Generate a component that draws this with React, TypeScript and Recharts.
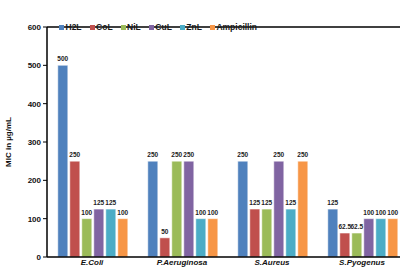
import React from 'react';
import {
  BarChart,
  Bar,
  XAxis,
  YAxis,
  ReferenceLine,
  Legend,
  LabelList,
} from 'recharts';

const strains = ['E.Coli', 'P.Aeruginosa', 'S.Aureus', 'S.Pyogenus'];
const h2l = [500, 250, 250, 125];
const col = [250, 50, 125, 62.5];
const nil = [100, 250, 125, 62.5];
const cul = [125, 250, 250, 100];
const znl = [125, 100, 125, 100];
const ampicillin = [100, 100, 250, 100];
const yTicks = [0, 100, 200, 300, 400, 500, 600];

const series = [
  { key: 'H2L', values: h2l, color: '#4F81BD' },
  { key: 'CoL', values: col, color: '#C0504D' },
  { key: 'NiL', values: nil, color: '#9BBB59' },
  { key: 'CuL', values: cul, color: '#8064A2' },
  { key: 'ZnL', values: znl, color: '#4BACC6' },
  { key: 'Ampicillin', values: ampicillin, color: '#F79646' },
];

const data = strains.map((name, i) => {
  const row: any = { name, pos: i };
  series.forEach((s) => {
    row[s.key] = s.values[i];
  });
  return row;
});

const font = '"Liberation Sans", Arial, sans-serif';

const LegendContent = () => (
  <div style={{ display: 'flex', fontFamily: font, fontSize: 8.5, fontWeight: 700, color: '#1a1a1a', whiteSpace: 'nowrap', lineHeight: '10px' }}>
    {series.map((s) => (
      <div key={s.key} style={{ display: 'flex', alignItems: 'center', marginRight: 8, flexShrink: 0 }}>
        <span style={{ width: 5, height: 5, background: s.color, marginRight: 1.5, display: 'inline-block', flexShrink: 0 }} />
        <span>{s.key}</span>
      </div>
    ))}
  </div>
);

const App = () => {
  return (
    <div style={{ position: 'absolute', left: 0, top: 0, width: 400, height: 271, overflow: 'hidden', background: '#fff' }}>
      <BarChart
        width={412}
        height={271}
        data={data}
        margin={{ top: 17, right: 5, left: 0, bottom: 0 }}
        barCategoryGap="12%"
        barGap={2}
      >
        <XAxis
          xAxisId="edges"
          type="number"
          domain={[0, 4]}
          ticks={[0, 1, 2, 3, 4]}
          height={0}
          axisLine={false}
          tick={false}
          tickLine={{ stroke: '#000', strokeWidth: 1 }}
          tickSize={3}
        />
        <XAxis
          dataKey="name"
          height={14}
          axisLine={{ stroke: '#000', strokeWidth: 1.5 }}
          tickLine={false}
          interval={0}
          tick={{ fontSize: 8, fontWeight: 700, fontStyle: 'italic', fill: '#111', fontFamily: font }}
          tickSize={2}
          tickMargin={0}
        />
        <YAxis
          domain={[0, 600]}
          ticks={yTicks}
          width={47}
          axisLine={{ stroke: '#000', strokeWidth: 1.5 }}
          tickLine={{ stroke: '#000' }}
          tickSize={4}
          tick={{ fontSize: 8, fontWeight: 700, fill: '#111', fontFamily: font }}
          label={{
            value: 'MIC in µg/mL',
            angle: -90,
            position: 'insideLeft',
            offset: 8,
            style: { fontSize: 8, fontWeight: 700, fill: '#111', fontFamily: font, textAnchor: 'middle' },
          }}
        />
        <ReferenceLine y={600} stroke="#000" strokeWidth={1.5} />
        <Legend
          verticalAlign="top"
          align="left"
          content={<LegendContent />}
          wrapperStyle={{ top: 22, left: 59, width: 320 }}
        />
        {series.map((s) => (
          <Bar
            key={s.key}
            dataKey={s.key}
            fill={s.color}
            stroke="#ffffff"
            strokeWidth={0.5}
            isAnimationActive={false}
          >
            <LabelList
              dataKey={s.key}
              position="top"
              offset={4}
              style={{ fontSize: 6.5, fontWeight: 700, fill: '#222', fontFamily: font }}
            />
          </Bar>
        ))}
      </BarChart>
    </div>
  );
};

export default App;
